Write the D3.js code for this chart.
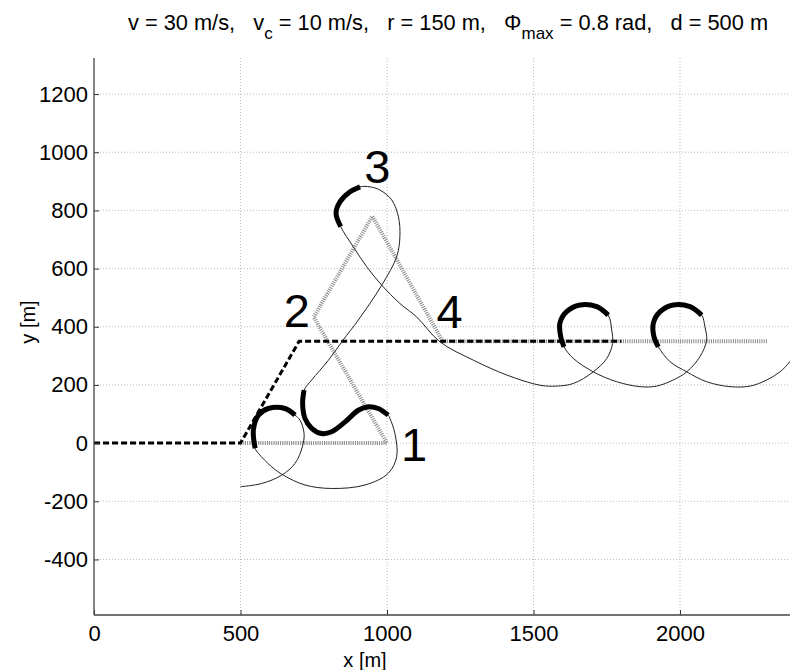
<!DOCTYPE html>
<html><head><meta charset="utf-8">
<script src="https://cdn.jsdelivr.net/npm/d3@7"></script>
<style>
body{margin:0;background:#fff}
svg{display:block}
text{font-family:"Liberation Sans",Arial,Helvetica,sans-serif;fill:#000}
</style>
</head><body>
<svg id="c" width="790" height="670"></svg>
<script>
// ---- data (metres) ----
const xTicks = [0, 500, 1000, 1500, 2000];
const yTicks = [-400, -200, 0, 200, 400, 600, 800, 1000, 1200];
const xLabel = "x [m]";
const yLabel = "y [m]";
const desiredPath = [[0,0],[500,0],[700,350],[1800,350]];
const waypointPath = [[500,0],[1000,0],[750,433],[950,780],[1190,350],[2300,350]];
const waypointNames = ["1","2","3","4"];
const waypointAt = [[1000,0],[750,433],[950,780],[1190,350]];
const trajectory = [
 [500,-150],[572,-139],[641,-110],[686,-70],[711,-13],[717,33],[703,79],[686,96],
 [652,119],[595,119],[561,96],[544,45],[550,-18],[561,-35],[607,-82],[646,-110],
 [720,-144],[811,-156],[925,-144],[1004,-104],[1033,-47],[1027,33],[1010,85],[1004,96],
 [970,119],[936,125],[902,113],[857,73],[811,39],[777,33],[743,51],[720,85],[712,137],
 [717,182],[743,217],[800,285],[850,354],[902,423],[982,543],[1033,641],[1044,709],
 [1039,778],[1016,836],[976,870],[942,881],[908,881],[874,864],[840,830],[826,790],
 [842,744],[885,675],[931,606],[982,543],[1044,480],[1101,434],[1181,348],[1295,285],
 [1409,234],[1522,199],[1579,196],[1636,205],[1704,245],[1750,291],[1770,343],[1767,389],
 [1755,440],[1716,469],[1659,475],[1613,452],[1590,412],[1593,366],[1604,331],[1636,291],
 [1704,245],[1784,211],[1864,194],[1920,196],[1977,217],[2023,245],[2068,297],[2091,354],
 [2085,400],[2074,440],[2034,469],[1977,475],[1932,452],[1909,412],[1911,366],[1926,331],
 [1966,280],[2023,245],[2091,211],[2171,194],[2239,196],[2296,217],[2341,245],[2375,280],[2410,337]
];
const arc1 = [[686,96],[652,119],[595,119],[561,96],[544,45],[550,-18]];
const arc2 = [[1004,96],[970,119],[936,125],[902,113],[857,73],[811,39],[777,33],[743,51],[720,85],[712,137],[717,182]];
const arc3 = [[908,881],[874,864],[840,830],[826,790],[842,744]];
const arc4 = [[1755,440],[1716,469],[1659,475],[1613,452],[1590,412],[1593,366],[1604,331]];
const arc5 = [[2074,440],[2034,469],[1977,475],[1932,452],[1909,412],[1911,366],[1926,331]];
const thickArcs = [arc1, arc2, arc3, arc4, arc5];

// ---- layout ----
const svg = d3.select("#c");
const x = d3.scaleLinear().domain([0, 2400]).range([94, 94 + 2400*0.293]);
const y = d3.scaleLinear().domain([-591, 1324]).range([615, 58]);
const X0 = x.range()[0], Y0 = y.range()[0], Ytop = y.range()[1], Xright = 790;

svg.append("defs").append("clipPath").attr("id","clip")
  .append("rect").attr("x",X0).attr("y",Ytop).attr("width",Xright-X0).attr("height",Y0-Ytop);

// grid
const grid = svg.append("g");
grid.selectAll("line.v").data(xTicks.filter(d=>d>0)).join("line")
  .attr("x1",d=>x(d)).attr("x2",d=>x(d)).attr("y1",Ytop).attr("y2",Y0)
  .attr("stroke","#bdbdbd").attr("stroke-width",1).attr("stroke-dasharray","1,2");
grid.selectAll("line.h").data(yTicks).join("line")
  .attr("x1",X0).attr("x2",Xright).attr("y1",d=>y(d)).attr("y2",d=>y(d))
  .attr("stroke","#bdbdbd").attr("stroke-width",1).attr("stroke-dasharray","1,2");

const plot = svg.append("g").attr("clip-path","url(#clip)");
const lineStraight = d3.line().x(d=>x(d[0])).y(d=>y(d[1]));
const lineSmooth = d3.line().x(d=>x(d[0])).y(d=>y(d[1])).curve(d3.curveCatmullRom.alpha(0.5));

plot.append("path").attr("d",lineStraight(waypointPath)).attr("fill","none")
  .attr("stroke","#8a8a8a").attr("stroke-width",4).attr("stroke-dasharray","1,1.2");
plot.append("path").attr("d",lineStraight(desiredPath)).attr("fill","none")
  .attr("stroke","#000").attr("stroke-width",3).attr("stroke-dasharray","6,3");
plot.append("path").attr("d",lineSmooth(trajectory)).attr("fill","none")
  .attr("stroke","#222").attr("stroke-width",1);
thickArcs.forEach(a=>{
  plot.append("path").attr("d",lineSmooth(a)).attr("fill","none")
    .attr("stroke","#000").attr("stroke-width",5);
});

// waypoint labels
const labelOffset = [[27,18],[-17,10],[5,-33],[7,-13]];
svg.selectAll("text.wp").data(waypointNames).join("text")
  .attr("x",(d,i)=>x(waypointAt[i][0])+labelOffset[i][0])
  .attr("y",(d,i)=>y(waypointAt[i][1])+labelOffset[i][1])
  .attr("text-anchor","middle").attr("font-size",47).text(d=>d);

// axes
const ax = svg.append("g").attr("transform",`translate(0,${Y0})`)
  .call(d3.axisBottom(x).tickValues(xTicks).tickSize(-5).tickPadding(10).tickFormat(d3.format("d")));
const ay = svg.append("g").attr("transform",`translate(${X0},0)`)
  .call(d3.axisLeft(y).tickValues(yTicks).tickSize(-5).tickPadding(6).tickFormat(d3.format("d")));
[ax,ay].forEach(g=>{
  g.select(".domain").remove();
  g.selectAll(".tick line").attr("stroke","#333");
  g.selectAll(".tick text").attr("font-size",22).attr("font-family","Liberation Sans, Arial, sans-serif").attr("fill","#000");
});
ay.selectAll(".tick text").text(d=>d<0?"-"+Math.abs(d):d);
svg.append("line").attr("x1",X0).attr("x2",X0).attr("y1",Ytop).attr("y2",Y0).attr("stroke","#444").attr("stroke-width",1.3);
svg.append("line").attr("x1",X0).attr("x2",Xright).attr("y1",Y0).attr("y2",Y0).attr("stroke","#444").attr("stroke-width",1.3);

svg.append("text").attr("x",365).attr("y",667).attr("text-anchor","middle").attr("font-size",20).text(xLabel);
svg.append("text").attr("transform","translate(35,322) rotate(-90)").attr("text-anchor","middle").attr("font-size",20).text(yLabel);

// title
const t = svg.append("text").attr("x",448).attr("y",30).attr("text-anchor","middle").attr("font-size",21.8).attr("xml:space","preserve").style("white-space","pre");
t.append("tspan").text("v = 30 m/s,   v");
t.append("tspan").attr("dy",9).attr("font-size",17).text("c");
t.append("tspan").attr("dy",-9).text(" = 10 m/s,   r = 150 m,   \u03A6");
t.append("tspan").attr("dy",9).attr("font-size",17).text("max");
t.append("tspan").attr("dy",-9).text(" = 0.8 rad,   d = 500 m");
</script>
</body></html>
